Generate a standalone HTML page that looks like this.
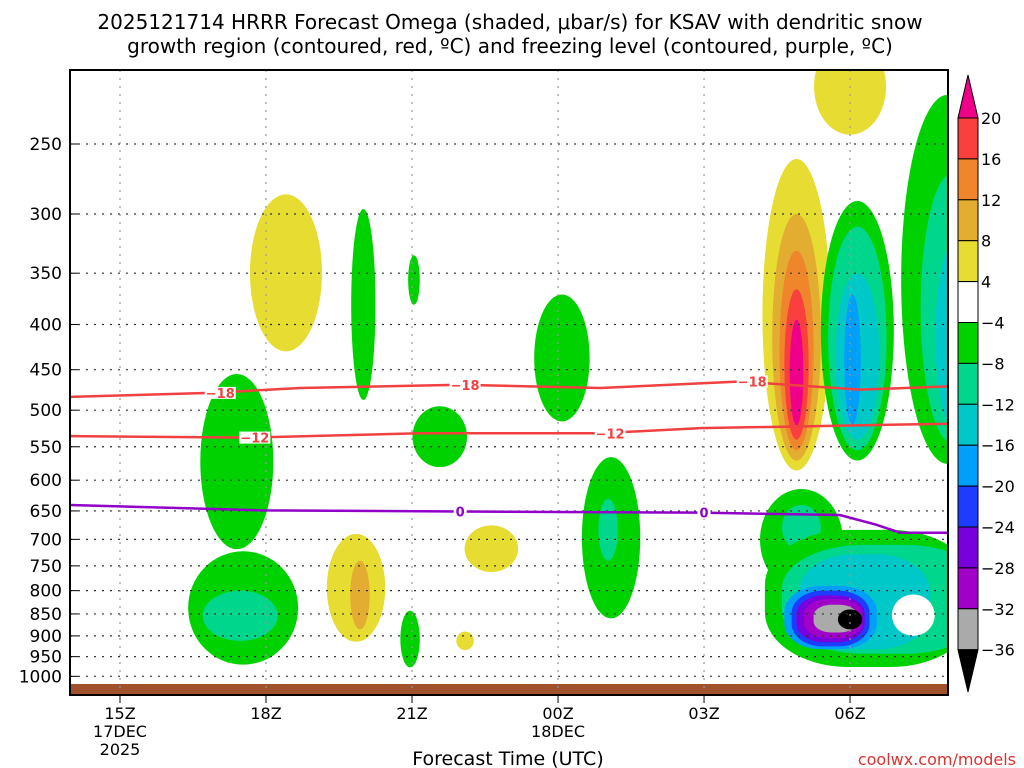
<!DOCTYPE html>
<html><head><meta charset="utf-8"><style>
body{margin:0;background:#fff;font-family:"Liberation Sans",sans-serif}
svg{display:block}
text{font-family:"DejaVu Sans","Liberation Sans",sans-serif}
</style></head><body>
<svg id="chart" width="1024" height="768" viewBox="0 0 1024 768">
<text x="510" y="29" text-anchor="middle" font-size="20" fill="#000">2025121714 HRRR Forecast Omega (shaded, μbar/s) for KSAV with dendritic snow</text>
<text x="510" y="53" text-anchor="middle" font-size="20" fill="#000">growth region (contoured, red, ºC) and freezing level (contoured, purple, ºC)</text>
<defs><clipPath id="plotclip"><rect x="70" y="70" width="878" height="625"/></clipPath></defs>
<g id="shades" clip-path="url(#plotclip)"></g>
<rect x="70" y="684" width="878" height="11" fill="#a0522d"/>
<g id="grid"></g>
<g id="lines" clip-path="url(#plotclip)"></g>
<rect x="70" y="70" width="878" height="625" fill="none" stroke="#000" stroke-width="2"/>
<g id="axes"></g>
<g id="cbar"></g>
<text x="508" y="765" text-anchor="middle" font-size="19">Forecast Time (UTC)</text>
<text x="1016" y="765" text-anchor="end" font-size="16" fill="#e03030">coolwx.com/models</text>
</svg>
<script>
const pTicks=[250,300,350,400,450,500,550,600,650,700,750,800,850,900,950,1000];
const tHours=[0,3,6,9,12,15];
const tLabels=["15Z","18Z","21Z","00Z","03Z","06Z"];
const tSub=[["17DEC","2025"],[],[],["18DEC"],[],[]];
const cbLevels=["20","16","12","8","4","−4","−8","−12","−16","−20","−24","−28","−32","−36"];
const cbColors=["#f9403f","#f0862c","#e2ad31","#e6dc32","#ffffff","#00d200","#00d68c","#00c8c8","#00a0fa","#1e3cff","#7800dc","#a000c8","#aaaaaa"];
// blobs: [color, centerHour, halfWidthHours, topP, bottomP, roundness]
const blobs=[
["#e6dc32",3.41,0.74,285,429,1],
["#00d200",5.0,0.25,296,487,1],
["#00d200",6.04,0.12,334,380,1],
["#00d200",9.08,0.57,370,515,1],
["#00d200",6.57,0.56,495,580,1],
["#00d200",2.4,0.75,455,718,1],
["#00d200",2.53,1.13,722,970,1],
["#00d68c",2.47,0.77,800,912,1],
["#e6dc32",4.85,0.6,690,914,1],
["#e2ad31",4.93,0.2,740,885,1],
["#00d200",5.96,0.2,843,977,1],
["#e6dc32",7.09,0.18,890,934,1],
["#e6dc32",7.63,0.55,675,762,1],
["#00d200",10.09,0.6,565,860,1],
["#00d68c",10.03,0.2,630,740,1],
["#e6dc32",15.0,0.74,190,244,1],
["#e6dc32",13.9,0.7,260,585,1],
["#e2ad31",13.9,0.5,300,570,1],
["#f0862c",13.9,0.35,330,555,1],
["#f9403f",13.9,0.25,365,540,1],
["#ee0088",13.9,0.14,395,520,1],
["#00d200",17.0,0.95,220,575,1],
["#00d200",15.15,0.75,290,570,1],
["#00d68c",15.15,0.6,310,555,1],
["#00d68c",17.1,0.65,270,545,1],
["#00c8c8",15.15,0.45,350,540,1],
["#00c8c8",17.2,0.45,320,530,1],
["#00a0fa",15.05,0.17,370,520,1],
["#00a0fa",17.3,0.25,390,500,1],
["#00d200",14.0,0.85,614,800,1],
["#00d68c",14.0,0.4,640,720,1],
["#00d200",15.4,2.15,683,976,0.8],
["#00d68c",15.7,2.1,710,943,0.8],
["#00c8c8",15.3,1.35,728,932,0.8],
["#00a0fa",14.6,0.95,790,932,0.8],
["#1e3cff",14.6,0.8,800,925,0.8],
["#7800dc",14.6,0.7,810,915,0.8],
["#a000c8",14.65,0.6,818,905,0.8],
["#aaaaaa",14.7,0.45,830,892,0.8],
["#000000",15.0,0.25,840,885,1],
["#ffffff",16.3,0.44,808,900,1]
];
const m18H=[-1.03,1.85,3.7,6.99,9.86,12.74,15.2,17.01];
const m18P=[483,478,472,468,472,464,474,470];
const m12H=[-1.03,2.68,6.16,9.86,11.92,17.01];
const m12P=[535,537,531,531,524,518];
const frzH=[-1.03,2.88,6.99,11.92,14.79,15.51,16.03,17.01];
const frzP=[640,649,651,653,657,673,688,688];
const lbls=[["−18",2.06,478,"#f04040"],["−18",7.09,468,"#f04040"],["−18",12.99,464,"#f04040"],["−12",2.77,537,"#f04040"],["−12",10.07,531,"#f04040"],["0",6.99,651,"#9000c8"],["0",12.0,653,"#9000c8"]];

const NS="http://www.w3.org/2000/svg";
const X=h=>120+48.67*h;
const Y=p=>144+384*Math.log(p/250);
function el(tag,attrs,parent){const e=document.createElementNS(NS,tag);for(const k in attrs)e.setAttribute(k,attrs[k]);parent.appendChild(e);return e;}
const sh=document.getElementById('shades');
blobs.forEach(b=>{
  const y1=Y(b[3]),y2=Y(b[4]);
  const hw=48.67*b[2], hh=(y2-y1)/2;
  const e=el('rect',{x:X(b[1])-hw,y:y1,width:2*hw,height:2*hh,rx:hw*b[5],ry:hh*b[5],fill:b[0]},sh);
  
  
});
const g=document.getElementById('grid');
pTicks.forEach(p=>{
  const l=el('line',{x1:70,x2:948,y1:Y(p),y2:Y(p),stroke:'#333','stroke-dasharray':'2,6','stroke-width':1.2},g);
  
  
});
tHours.forEach(h=>{
  const l=el('line',{x1:X(h),x2:X(h),y1:70,y2:695,stroke:'#999','stroke-dasharray':'2,6','stroke-width':1.2},g);
  
  
});
const ln=document.getElementById('lines');
function poly(H,P,color,name){
  const d=H.map((h,i)=>X(h)+','+Y(P[i])).join(' ');
  const e=el('polyline',{points:d,fill:'none',stroke:color,'stroke-width':2.5},ln);
  
  
}
poly(m18H,m18P,'#f04040','minus18-isotherm');
poly(m12H,m12P,'#f04040','minus12-isotherm');
poly(frzH,frzP,'#9000c8','freezing-level');
lbls.forEach(l=>{
  const w=l[0].length*9+4;
  el('rect',{x:X(l[1])-w/2,y:Y(l[2])-6,width:w,height:12,fill:'#fff'},ln);
  const t=el('text',{x:X(l[1]),y:Y(l[2])+5,'text-anchor':'middle','font-size':13,'font-weight':'bold',fill:l[3]},ln);
  t.textContent=l[0];
  
  
});
const ax=document.getElementById('axes');
pTicks.forEach(p=>{
  const t=el('text',{x:62,y:Y(p)+6,'text-anchor':'end','font-size':17},ax);
  t.textContent=p;
  
  
  el('line',{x1:70,x2:78,y1:Y(p),y2:Y(p),stroke:'#000'},ax);
});
tHours.forEach((h,i)=>{
  el('line',{x1:X(h),x2:X(h),y1:695,y2:703,stroke:'#000'},ax);
  const t=el('text',{x:X(h),y:719,'text-anchor':'middle','font-size':16},ax);
  t.textContent=tLabels[i];
  
  
  tSub[i].forEach((s,j)=>{
    const u=el('text',{x:X(h),y:737+j*18,'text-anchor':'middle','font-size':16},ax);
    u.textContent=s;
    
    
  });
});
const cb=document.getElementById('cbar');
const cx0=958,cw=20,cbTop=118,bh=40.9;
el('polygon',{points:`${cx0},${cbTop} ${cx0+cw},${cbTop} ${cx0+cw/2},75`,fill:'#ee0088',stroke:'#000'},cb);
cbColors.forEach((c,i)=>{
  const r=el('rect',{x:cx0,y:cbTop+i*bh,width:cw,height:bh,fill:c,stroke:'#000'},cb);
  
  
});
const cbBot=cbTop+cbColors.length*bh;
el('polygon',{points:`${cx0},${cbBot} ${cx0+cw},${cbBot} ${cx0+cw/2},692`,fill:'#000',stroke:'#000'},cb);
cbLevels.forEach((s,i)=>{
  const t=el('text',{x:981,y:cbTop+i*bh+6,'font-size':16},cb);
  t.textContent=s;
  
  
});
</script>
</body></html>
